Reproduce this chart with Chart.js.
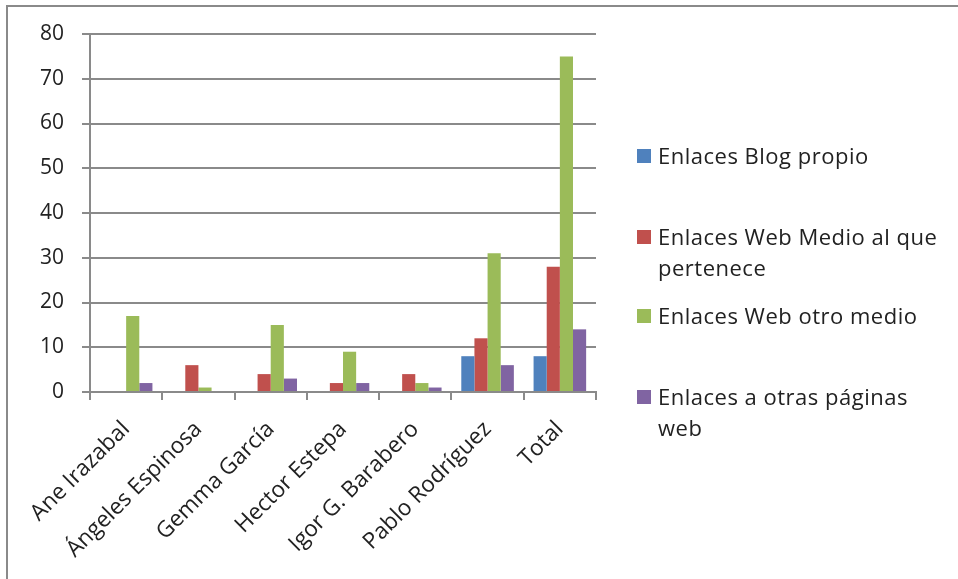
<!DOCTYPE html>
<html>
<head>
<meta charset="utf-8">
<script src="https://cdn.jsdelivr.net/npm/chart.js@4.4.0/dist/chart.umd.min.js"></script>
<style>
  body { margin: 0; background: #fff; width: 958px; height: 579px; overflow: hidden; position: relative; font-family: "Open Sans", sans-serif; }
  #frame { position: absolute; left: 6px; top: 5px; width: 1000px; height: 1000px; border-left: 2px solid #8a8a8a; border-top: 2px solid #8a8a8a; }
  #chartCanvas { position: absolute; left: 0; top: 0; }
  #legend { position: absolute; left: 637px; top: 0; color: #222; font-size: 22px; line-height: 31px; letter-spacing: 0.5px; }
  .item { position: absolute; left: 0; width: 300px; padding-left: 21px; white-space: normal; }
  .box { position: absolute; left: 0; top: 9px; width: 14px; height: 14px; }
</style>
</head>
<body>
<div id="frame"></div>
<canvas id="chartCanvas" width="958" height="579"></canvas>
<div id="legend"></div>
<script>
var categories = ["Ane Irazabal", "Ángeles Espinosa", "Gemma García", "Hector Estepa", "Igor G. Barabero", "Pablo Rodríguez", "Total"];
var seriesNames = ["Enlaces Blog propio", "Enlaces Web Medio al que pertenece", "Enlaces Web otro medio", "Enlaces a otras páginas web"];
var blogPropio = [0, 0, 0, 0, 0, 8, 8];
var webMedio = [0, 6, 4, 2, 4, 12, 28];
var webOtro = [17, 1, 15, 9, 2, 31, 75];
var otrasPaginas = [2, 0, 3, 2, 1, 6, 14];
var seriesColors = ["#4F81BD", "#C0504D", "#9BBB59", "#8064A2"];
var legendTops = [140, 221, 300, 381];

var seriesData = [blogPropio, webMedio, webOtro, otrasPaginas];
var datasets = seriesNames.map(function(name, i) {
    return {
        label: name,
        data: seriesData[i],
        backgroundColor: seriesColors[i],
        borderWidth: 0,
        barPercentage: 1,
        categoryPercentage: 4 / 5.5
    };
});

var ctx = document.getElementById("chartCanvas");
var gridColor = "#8a8a8a";

var myChart = new Chart(ctx, {
    type: 'bar',
    data: { labels: categories, datasets: datasets },
    options: {
        responsive: false,
        animation: false,
        layout: { padding: { left: 0, top: 34, right: 958 - 596, bottom: 0 } },
        scales: {
          x: {
            grid: { display: true, drawOnChartArea: false, drawTicks: true, tickLength: 8, offset: true, color: gridColor, lineWidth: 2 },
            border: { display: true, color: gridColor, width: 2 },
            ticks: { minRotation: 45, maxRotation: 45, color: "#222", font: { family: "Open Sans", size: 22.5 }, padding: 16, autoSkip: false },
            afterFit: function(scale) { scale.height = 579 - 392; }
          },
          y: {
            min: 0, max: 80,
            ticks: { stepSize: 10, color: "#222", font: { family: "Open Sans", size: 21 }, padding: 18 },
            grid: { color: gridColor, lineWidth: 2, tickLength: 8 },
            border: { display: true, color: gridColor, width: 2 },
            afterFit: function(scale) { scale.width = 90; }
          }
        },
        plugins: {
          legend: { display: false },
          tooltip: { enabled: false }
        }
    }
});

// legend drawn as html, Excel-style spread
var legend = document.getElementById("legend");
seriesNames.forEach(function(name, i) {
    var item = document.createElement('div');
    item.className = 'item';
    item.style.top = legendTops[i] + 'px';
    var box = document.createElement('div');
    box.className = 'box';
    box.style.background = seriesColors[i];
    item.appendChild(box);
    var label = document.createElement('span');
    label.textContent = name;
    item.appendChild(label);
    legend.appendChild(item);
});
legend.children[1].style.width = '292px';
legend.children[3].style.width = '280px';
</script>
</body>
</html>
